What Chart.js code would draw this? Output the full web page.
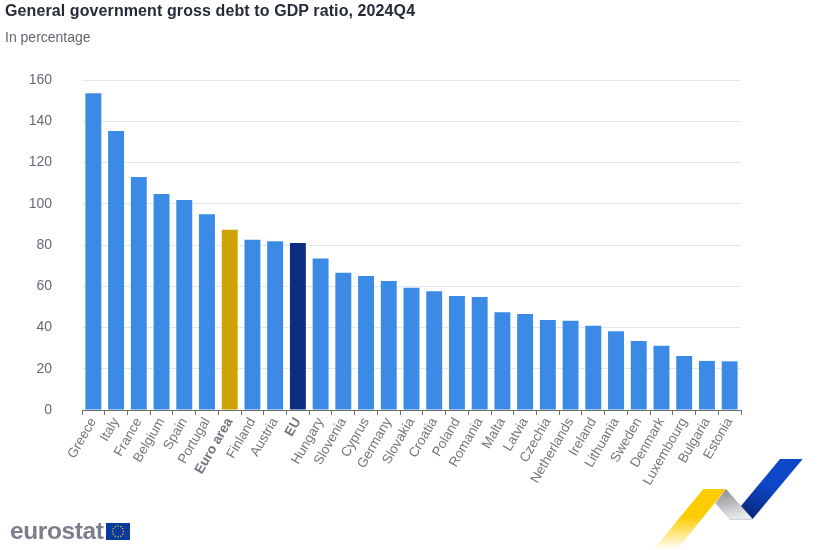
<!DOCTYPE html>
<html>
<head>
<meta charset="utf-8">
<title>General government gross debt to GDP ratio</title>
<script src="https://cdn.jsdelivr.net/npm/chart.js@4"></script>
<style>
  html, body { margin: 0; padding: 0; background: #fff; }
  #wrap { position: relative; width: 823px; height: 550px; overflow: hidden; font-family: "Liberation Sans", Arial, sans-serif; }
  #debtChart { position: absolute; left: 0; top: 0; }
  .title { position: absolute; left: 5px; top: 1px; font-size: 16px; line-height: 20px; font-weight: bold; color: #262b38; white-space: nowrap; letter-spacing: 0.1px; }
  .subtitle { position: absolute; left: 5px; top: 28px; font-size: 14px; line-height: 18px; color: #636772; white-space: nowrap; }
  .wordmark { position: absolute; left: 10px; top: 517px; font-size: 24.5px; line-height: 28px; font-weight: bold; color: #7c7f8b; letter-spacing: -0.4px; }
  svg { position: absolute; left: 0; top: 0; }
</style>
</head>
<body>
<div id="wrap">
  <canvas id="debtChart" width="823" height="550"></canvas>
  <div class="title">General government gross debt to GDP ratio, 2024Q4</div>
  <div class="subtitle">In percentage</div>
  <div class="wordmark">eurostat</div>
  <svg width="823" height="550" viewBox="0 0 823 550">
    <defs>
      <linearGradient id="yellowFade" x1="0" y1="1" x2="0" y2="0">
        <stop offset="0" stop-color="#ffcc00" stop-opacity="0"/>
        <stop offset="0.55" stop-color="#ffcc00"/>
        <stop offset="1" stop-color="#ffcc00"/>
      </linearGradient>
      <linearGradient id="greyFade" x1="0.4" y1="0" x2="0.7" y2="1">
        <stop offset="0" stop-color="#8f9196"/>
        <stop offset="1" stop-color="#f0f0f1"/>
      </linearGradient>
      <linearGradient id="blueFade" x1="0.3" y1="1" x2="0.7" y2="0">
        <stop offset="0" stop-color="#082a7c"/>
        <stop offset="0.55" stop-color="#0e46c8"/>
        <stop offset="1" stop-color="#0e46c8"/>
      </linearGradient>
    </defs>
    <polygon points="703.3,489 726,489 676.7,550 653,550" fill="url(#yellowFade)"/>
    <polygon points="726,489 752.7,519 729.3,519 715.3,503.3" fill="url(#greyFade)"/>
    <line x1="729.3" y1="519.3" x2="752.7" y2="519.3" stroke="#b4bccb" stroke-width="0.8"/>
    <polygon points="780,459 802.7,459 752.7,519 741,506" fill="url(#blueFade)"/>
    <g id="flag">
      <rect x="106" y="523" width="24" height="17" fill="#0b3a9c"/>
    </g>
  </svg>
</div>
<script>
const categories = ['Greece', 'Italy', 'France', 'Belgium', 'Spain', 'Portugal', 'Euro area', 'Finland', 'Austria', 'EU',
  'Hungary', 'Slovenia', 'Cyprus', 'Germany', 'Slovakia', 'Croatia', 'Poland', 'Romania', 'Malta', 'Latvia',
  'Czechia', 'Netherlands', 'Ireland', 'Lithuania', 'Sweden', 'Denmark', 'Luxembourg', 'Bulgaria', 'Estonia'];
const debtValues = [153.6, 135.3, 113, 104.7, 101.8, 94.9, 87.4, 82.5, 81.8, 81,
  73.5, 66.6, 65, 62.5, 59.3, 57.6, 55.3, 54.8, 47.4, 46.6,
  43.6, 43.3, 40.9, 38.2, 33.5, 31.1, 26.2, 23.8, 23.6];
const aggregates = ['Euro area', 'EU'];

// Colours for the highlighted aggregates
const barColor = name => name === 'Euro area' ? '#cca300' : name === 'EU' ? '#0a2d7d' : '#3a8ae6';

// EU flag stars
const flag = document.getElementById('flag');
for (let i = 0; i < 12; i++) {
  const a = i * Math.PI / 6;
  const star = document.createElementNS('http://www.w3.org/2000/svg', 'circle');
  star.setAttribute('cx', 118 + 5.5 * Math.cos(a));
  star.setAttribute('cy', 531.5 + 5.5 * Math.sin(a));
  star.setAttribute('r', 0.7);
  star.setAttribute('fill', '#f5d020');
  flag.appendChild(star);
}

new Chart(document.getElementById('debtChart'), {
  type: 'bar',
  data: {
    labels: categories,
    datasets: [{
      data: debtValues,
      backgroundColor: categories.map(barColor),
      barPercentage: 0.7,
      categoryPercentage: 1
    }]
  },
  options: {
    responsive: false,
    animation: false,
    layout: { padding: { top: 80, right: 82, left: 0, bottom: 0 } },
    plugins: { legend: { display: false }, tooltip: { enabled: false } },
    scales: {
      x: {
        afterFit: scale => { scale.height = 140; },
        grid: { offset: true, drawOnChartArea: false, drawTicks: true, tickLength: 5, color: '#6e6e6e' },
        border: { color: '#6e6e6e', width: 1 },
        ticks: {
          autoSkip: false,
          minRotation: 60,
          maxRotation: 60,
          padding: 0,
          color: '#73767f',
          font: ctx => ({
            family: '"Liberation Sans", Arial, sans-serif',
            size: 13.5,
            weight: aggregates.includes(categories[ctx.index]) ? 'bold' : 'normal'
          })
        }
      },
      y: {
        min: 0,
        max: 160,
        afterFit: scale => { scale.width = 82; },
        grid: { color: '#e0e6f2', drawTicks: false },
        border: { display: false },
        ticks: {
          stepSize: 20,
          padding: 30,
          color: '#666a75',
          font: { family: '"Liberation Sans", Arial, sans-serif', size: 14 }
        }
      }
    }
  }
});
</script>
</body>
</html>
